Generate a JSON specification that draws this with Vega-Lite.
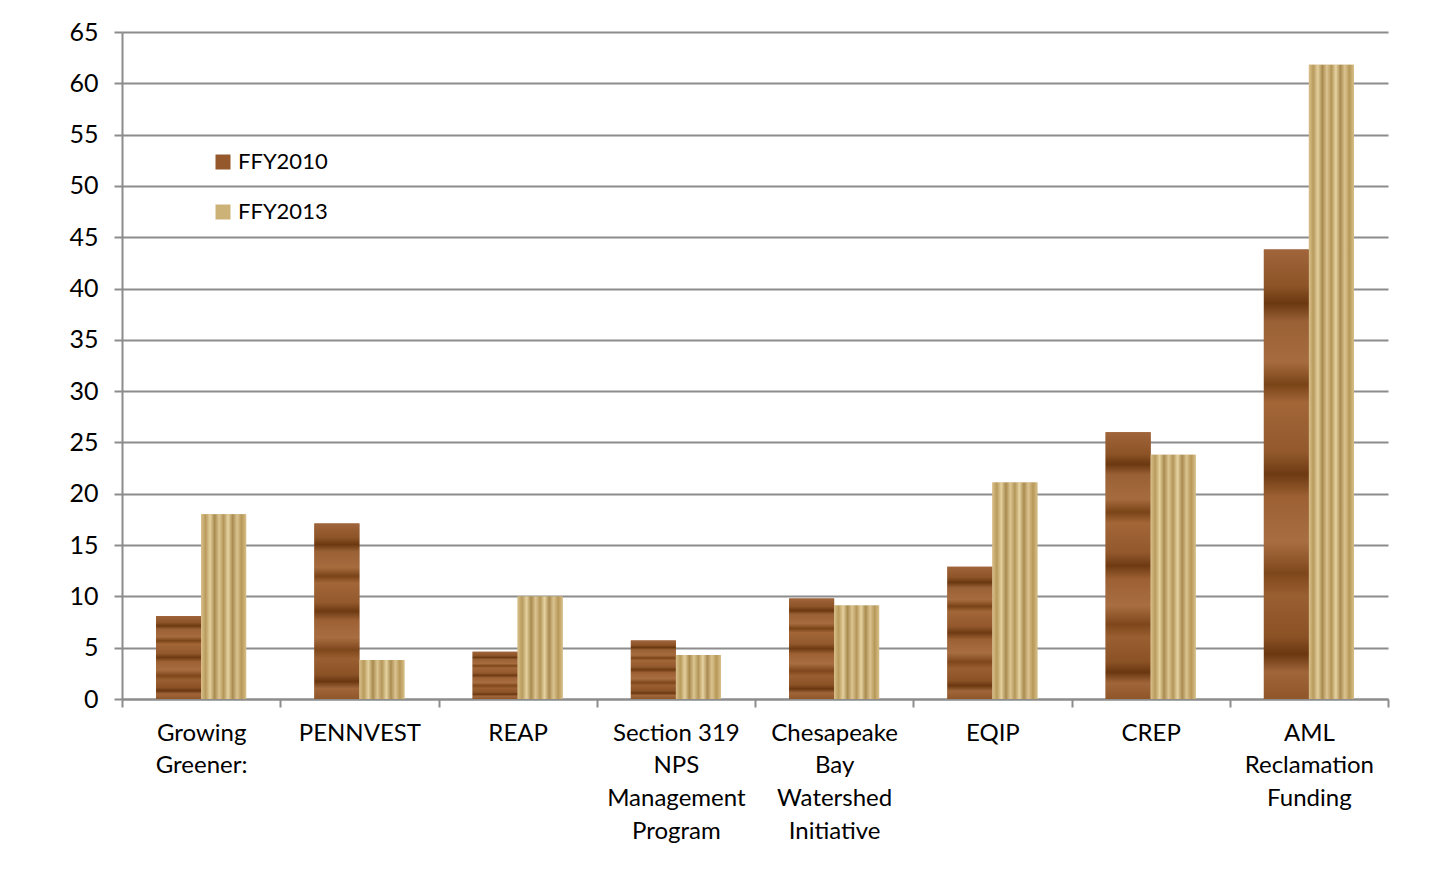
{
  "$schema": "https://vega.github.io/schema/vega-lite/v6.json",
  "autosize": {"type": "none"},
  "width": 1266,
  "height": 667,
  "padding": {"left": 122, "top": 32, "right": 62, "bottom": 170},
  "background": "white",
  "config": {
    "font": "Lato",
    "view": {"stroke": null},
    "axis": {"labelFont": "Lato", "labelColor": "#000000"}
  },
  "data": {
    "values": [
      {"program": "Growing Greener:", "year": "FFY2010", "value": 8.1},
      {"program": "Growing Greener:", "year": "FFY2013", "value": 18.0},
      {"program": "PENNVEST", "year": "FFY2010", "value": 17.1},
      {"program": "PENNVEST", "year": "FFY2013", "value": 3.8},
      {"program": "REAP", "year": "FFY2010", "value": 4.6},
      {"program": "REAP", "year": "FFY2013", "value": 10.0},
      {"program": "Section 319 NPS Management Program", "year": "FFY2010", "value": 5.7},
      {"program": "Section 319 NPS Management Program", "year": "FFY2013", "value": 4.3},
      {"program": "Chesapeake Bay Watershed Initiative", "year": "FFY2010", "value": 9.8},
      {"program": "Chesapeake Bay Watershed Initiative", "year": "FFY2013", "value": 9.1},
      {"program": "EQIP", "year": "FFY2010", "value": 12.9},
      {"program": "EQIP", "year": "FFY2013", "value": 21.1},
      {"program": "CREP", "year": "FFY2010", "value": 26.0},
      {"program": "CREP", "year": "FFY2013", "value": 23.8},
      {"program": "AML Reclamation Funding", "year": "FFY2010", "value": 43.8},
      {"program": "AML Reclamation Funding", "year": "FFY2013", "value": 61.8}
    ]
  },
  "encoding": {
    "x": {
      "field": "program",
      "type": "nominal",
      "sort": null,
      "title": null,
      "scale": {"paddingInner": 0, "paddingOuter": 0},
      "axis": {
        "labelAngle": 0,
        "labelFontSize": 24,
        "labelLineHeight": 32.7,
        "labelPadding": 14,
        "labelBaseline": "top",
        "labelLimit": 300,
        "tickBand": "extent",
        "tickSize": 8,
        "tickColor": "#8c8c8c",
        "tickWidth": 2,
        "domainColor": "#8c8c8c",
        "domainWidth": 2,
        "labelExpr": "datum.value == 'Growing Greener:' ? ['Growing', 'Greener:'] : datum.value == 'Section 319 NPS Management Program' ? ['Section 319', 'NPS', 'Management', 'Program'] : datum.value == 'Chesapeake Bay Watershed Initiative' ? ['Chesapeake', 'Bay', 'Watershed', 'Initiative'] : datum.value == 'AML Reclamation Funding' ? ['AML', 'Reclamation', 'Funding'] : datum.value"
      }
    },
    "xOffset": {"field": "year", "type": "nominal", "scale": {"paddingInner": 0, "paddingOuter": 0.758}},
    "y": {
      "field": "value",
      "type": "quantitative",
      "title": null,
      "scale": {"domain": [0, 65], "nice": false},
      "axis": {
        "values": [0, 5, 10, 15, 20, 25, 30, 35, 40, 45, 50, 55, 60, 65],
        "labelFontSize": 25,
        "labelPadding": 16,
        "tickSize": 8,
        "tickColor": "#8c8c8c",
        "tickWidth": 2,
        "domainColor": "#8c8c8c",
        "domainWidth": 2,
        "gridColor": "#8c8c8c",
        "gridWidth": 2
      }
    }
  },
  "layer": [
    {
      "mark": {"type": "bar"},
      "encoding": {
        "color": {
          "field": "year",
          "type": "nominal",
          "scale": {"domain": ["FFY2010", "FFY2013"], "range": ["#94582c", "#cdb278"]},
          "legend": {
            "title": null,
            "orient": "none",
            "legendX": 90,
            "legendY": 119,
            "labelFontSize": 22,
            "labelFont": "Lato",
            "symbolType": "square",
            "symbolSize": 225,
            "symbolStrokeWidth": 0,
            "rowPadding": 28,
            "labelOffset": 4
          }
        }
      }
    },
    {
      "transform": [{"filter": "datum.year == 'FFY2010'"}],
      "mark": {
        "type": "bar",
        "fill": {
          "gradient": "linear", "x1": 0, "y1": 0, "x2": 0, "y2": 1,
          "stops": [
            {"offset": 0, "color": "#a0653a"},
            {"offset": 0.08, "color": "#8d5428"},
            {"offset": 0.12, "color": "#6b3810"},
            {"offset": 0.16, "color": "#9a6136"},
            {"offset": 0.25, "color": "#a66c3e"},
            {"offset": 0.3, "color": "#7a4418"},
            {"offset": 0.34, "color": "#a26637"},
            {"offset": 0.45, "color": "#93592d"},
            {"offset": 0.5, "color": "#6e3a12"},
            {"offset": 0.55, "color": "#9c6033"},
            {"offset": 0.65, "color": "#a86e42"},
            {"offset": 0.72, "color": "#7e471b"},
            {"offset": 0.77, "color": "#9a5f31"},
            {"offset": 0.86, "color": "#8b5226"},
            {"offset": 0.9, "color": "#6a3710"},
            {"offset": 0.94, "color": "#a0663a"},
            {"offset": 1, "color": "#8f5629"}
          ]
        }
      }
    },
    {
      "transform": [{"filter": "datum.year == 'FFY2013'"}],
      "mark": {
        "type": "bar",
        "fill": {
          "gradient": "linear", "x1": 0, "y1": 0, "x2": 1, "y2": 0,
          "stops": [
            {"offset": 0, "color": "#d9c08a"},
            {"offset": 0.1, "color": "#b89a5c"},
            {"offset": 0.2, "color": "#e4d09e"},
            {"offset": 0.3, "color": "#a88a4e"},
            {"offset": 0.4, "color": "#dcc592"},
            {"offset": 0.5, "color": "#b39558"},
            {"offset": 0.6, "color": "#e6d3a2"},
            {"offset": 0.7, "color": "#a98b50"},
            {"offset": 0.8, "color": "#dbc390"},
            {"offset": 0.9, "color": "#b69858"},
            {"offset": 1, "color": "#d8bf88"}
          ]
        }
      }
    }
  ]
}
